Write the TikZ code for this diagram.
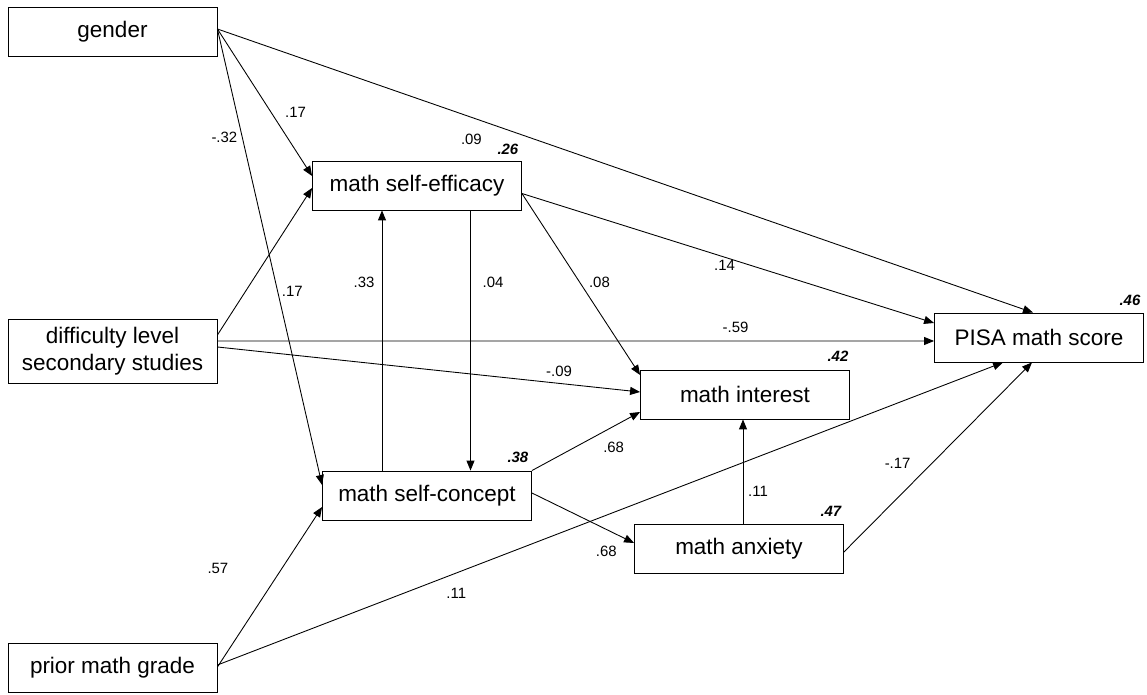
\documentclass[tikz,border=0pt]{standalone}
\usepackage{fontspec}
\setmainfont{Liberation Sans}[Ligatures=CommonOff]
\usetikzlibrary{arrows.meta,positioning,calc}
\tikzset{
  var/.style   ={draw=black,line width=0.5pt,fill=white,inner sep=0pt,
                 minimum width=4.18cm,minimum height=0.98cm,
                 font=\fontsize{12.8}{15.3}\selectfont},
  effect/.style={-{Triangle[length=2mm,width=1.6mm]},black,line width=0.5pt},
  coef/.style  ={font=\fontsize{8.5}{10}\selectfont,inner sep=0pt},
  rsq/.style   ={font=\fontsize{8.5}{10}\selectfont\bfseries\itshape,inner sep=0pt},
}
\begin{document}
\begin{tikzpicture}[x=0.02cm,y=-0.02cm]
\useasboundingbox (0,0) rectangle (1147,695);
% exogenous variables
\node[var] (gender) at (112.5,32) {gender};
\node[var,minimum height=1.28cm,align=center] (diff) at (112.5,351) {difficulty level\\secondary studies};
\node[var] (prior) at (112.5,668) {prior math grade};
% endogenous variables
\node[var] (effic) at (417,185.5) {math self-efficacy};
\node[var] (concept) at (427,495.5) {math self-concept};
\node[var] (interest) at (745,394.5) {math interest};
\node[var] (anxiety) at (739,548.5) {math anxiety};
\node[var] (pisa) at (1039,337.5) {PISA math score};
% explained variance
\node[rsq] (r2effic) at ($(effic.north east)+(-14,-11)$) {.26};
\node[rsq] (r2concept) at ($(concept.north east)+(-14,-13)$) {.38};
\node[rsq] (r2interest) at ($(interest.north east)+(-12,-13)$) {.42};
\node[rsq] (r2anxiety) at ($(anxiety.north east)+(-13,-12)$) {.47};
\node[rsq] (r2pisa) at ($(pisa.north east)+(-14,-12)$) {.46};

% paths from gender
\draw[effect] ($(gender.east)+(0,-3)$) -- node[coef,pos=0.32,shift={(-7,20)}]{.09} ($(pisa.north)+(-6,0)$);
\draw[effect] ($(gender.east)+(0,-3)$) -- node[coef,pos=0.645,shift={(17,-11)}]{.17} ($(effic.west)+(0,-9.5)$);
\draw[effect] ($(gender.east)+(0,-3)$) -- node[coef,pos=0.229,shift={(-17,4)}]{-.32} ($(concept.west)+(0,-10.5)$);
% paths from difficulty level
\draw[effect] ($(diff.east)+(0,-16)$) -- node[coef,pos=0.5,shift={(27.5,29.5)}]{.17} ($(effic.west)+(0,2.5)$);
\draw[effect] ($(diff.east)+(0,-10)$) -- node[coef,pos=0.723,shift={(0,-14)}]{-.59} ($(pisa.west)+(0,3.5)$);
\draw[effect] ($(diff.east)+(0,-4)$) -- node[coef,pos=0.806,shift={(1,-12)}]{-.09} ($(interest.west)+(0,-2.5)$);
% paths from prior grade
\draw[effect] ($(prior.east)+(0,-1)$) -- node[coef,pos=0.43,shift={(-44.5,-29.7)}]{.57} ($(concept.west)+(0,11.5)$);
\draw[effect] ($(prior.east)+(0,-3)$) -- node[coef,pos=0.2955,shift={(6.7,17.5)}]{.11} ($(pisa.south)+(-36,0)$);

% self-efficacy <-> self-concept
\coordinate (up) at ($(concept.north)+(-45,0)$);
\coordinate (down) at ($(effic.south)+(53.5,0)$);
\draw[effect] (up) -- node[coef,pos=0.724,shift={(-18,0)}]{.33} (up |- effic.south);
\draw[effect] (down) -- node[coef,pos=0.276,shift={(22.5,0)}]{.04} (down |- concept.north);
\draw[effect] ($(effic.east)+(0,8)$) -- node[coef,pos=0.541,shift={(13.6,-9)}]{.08} ($(interest.west)+(0,-19.5)$);
\draw[effect] ($(effic.east)+(0,8)$) -- node[coef,pos=0.494,shift={(-1,8)}]{.14} ($(pisa.west)+(0,-14.5)$);
\draw[effect] (concept.north east) -- node[coef,pos=0.677,shift={(8.5,16)}]{.68} ($(interest.west)+(0,17.5)$);
\draw[effect] ($(concept.east)+(0,-2.5)$) -- node[coef,pos=0.811,shift={(-8.4,17.4)}]{.68} ($(anxiety.west)+(0,-5.5)$);
% anxiety
\coordinate (anx) at ($(anxiety.north)+(4,0)$);
\draw[effect] (anx) -- node[coef,pos=0.314,shift={(15,0)}]{.11} (anx |- interest.south);
\draw[effect] ($(anxiety.east)+(0,3.5)$) -- node[coef,pos=0.378,shift={(-17.4,-17.3)}]{-.17} ($(pisa.south)+(-7,0)$);
\end{tikzpicture}
\end{document}
